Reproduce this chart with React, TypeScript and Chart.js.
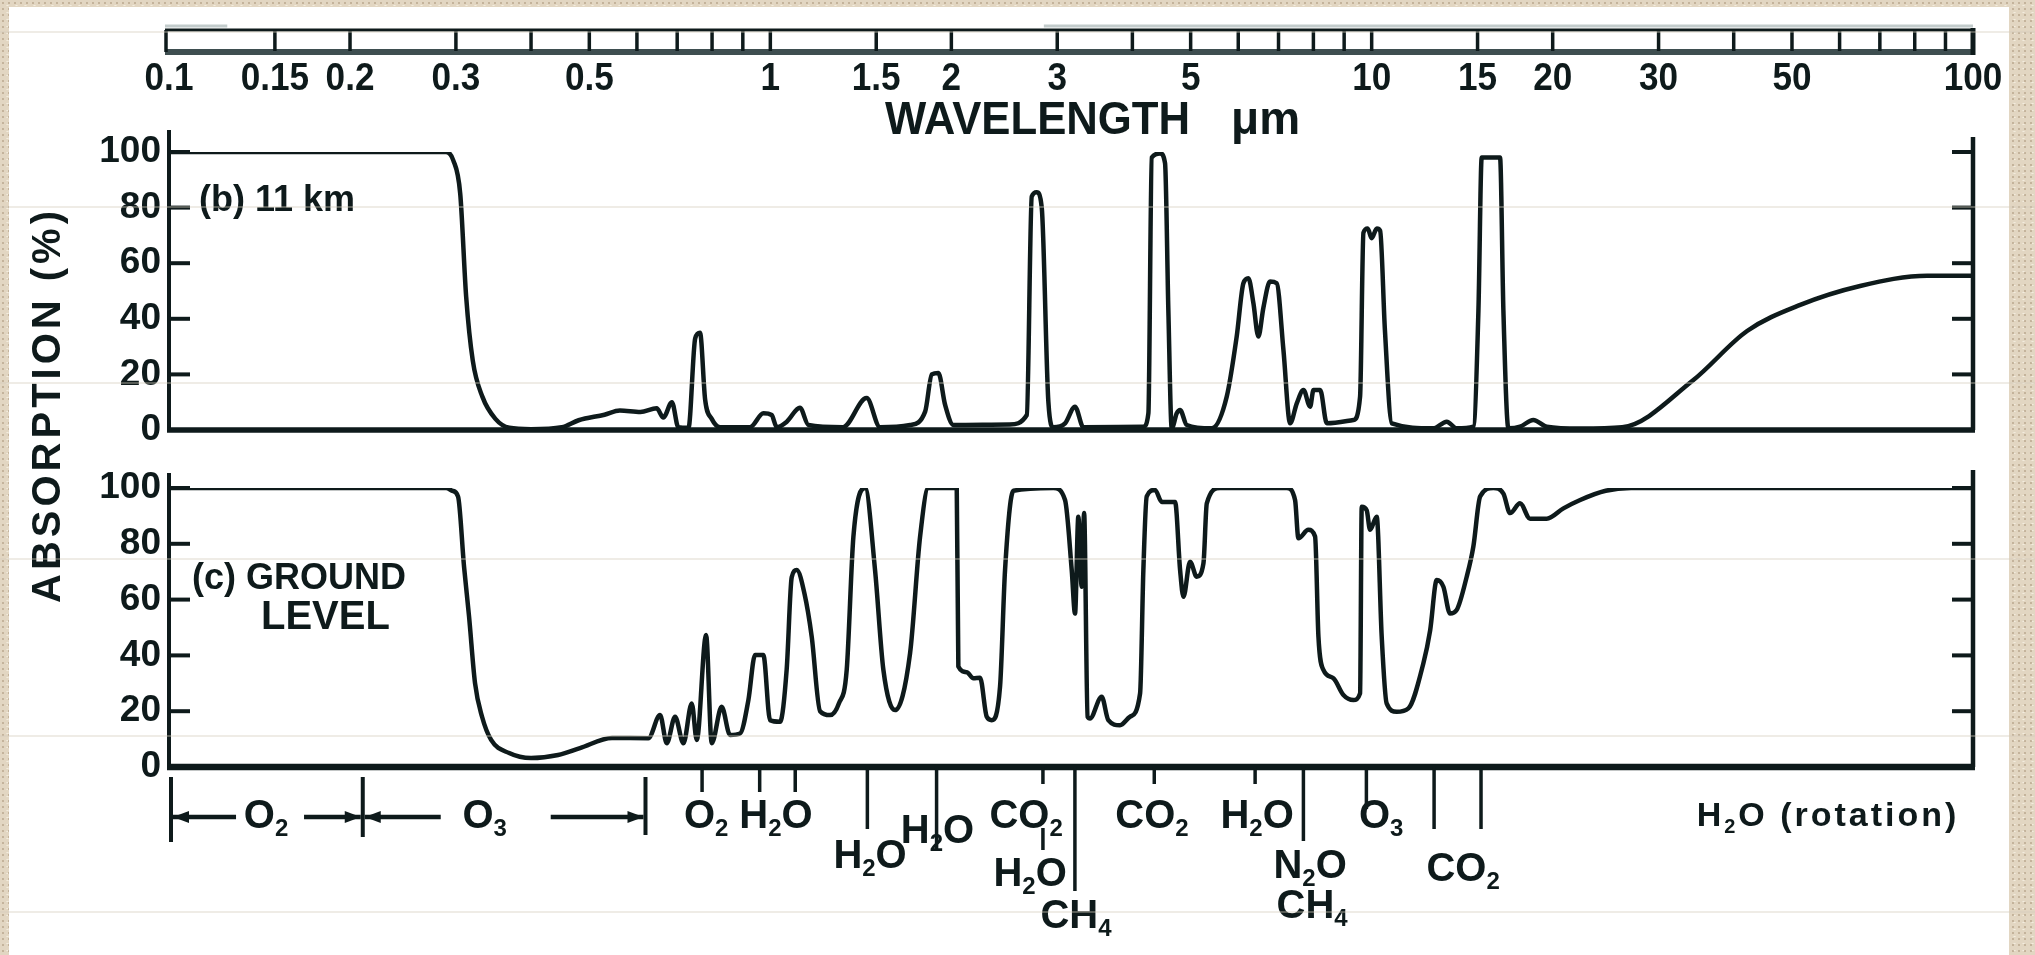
import React, { useEffect, useRef } from 'react';
import { Chart, registerables } from 'chart.js';

Chart.register(...registerables);

const FONT = "'Liberation Sans', Arial, Helvetica, sans-serif";
const INK = '#0e1a1b';
const PAGE_W = 2035;
const PAGE_H = 955;
const PLOT_LEFT = 169;
const PLOT_RIGHT = 1973;
const B_TOP = 152;
const B_BOTTOM = 430;
const C_TOP = 488;
const C_BOTTOM = 767;
const YAXIS_W = 120;

// ---- (b) 11 km: wavelength (µm) and absorption (%) ----
const wl11 = [0.1, 0.2, 0.289, 0.297, 0.305, 0.312, 0.32, 0.332, 0.349, 0.368, 0.4, 0.45, 0.48, 0.53, 0.562, 0.608, 0.647, 0.664, 0.686, 0.703, 0.731, 0.75, 0.764, 0.779, 0.799, 0.825, 0.925, 0.974, 1.005, 1.025, 1.065, 1.12, 1.157, 1.32, 1.446, 1.522, 1.708, 1.809, 1.856, 1.903, 1.953, 2.016, 2.5, 2.67, 2.721, 2.773, 2.827, 2.9, 2.956, 3.091, 3.211, 3.316, 4.172, 4.253, 4.308, 4.447, 4.533, 4.591, 4.651, 4.741, 4.802, 4.926, 5.42, 5.741, 5.964, 6.119, 6.237, 6.358, 6.48, 6.606, 6.776, 6.952, 7.133, 7.318, 7.507, 7.702, 7.901, 8.003, 8.21, 8.423, 9.326, 9.566, 9.69, 9.85, 10.0, 10.2, 10.33, 10.52, 10.8, 12.66, 13.33, 13.85, 14.76, 15.05, 15.24, 16.35, 16.56, 16.88, 17.65, 18.57, 19.55, 22.22, 26.1, 34.2, 42.1, 51.6, 64.9, 83.9, 100];
const abs11 = [100, 100, 100, 97, 85, 48, 25, 12, 4, 0.8, 0.3, 1, 3.5, 5.5, 7, 6.5, 7.8, 4.5, 10, 1, 0.8, 33, 35, 11, 4, 1, 1, 6, 5.4, 1, 3, 8, 1.8, 1, 11.5, 1, 1.8, 6.6, 20, 20.5, 9, 1.8, 2, 5.4, 84, 85.5, 80, 10, 1, 2.4, 8.4, 1, 1.2, 6, 98, 99.5, 96, 43, 0.6, 6, 7.2, 1.8, 0.6, 12, 33.6, 52.8, 54.6, 45.6, 33.6, 44, 53.4, 52.8, 28.8, 2.4, 9.6, 14.4, 8.4, 14.4, 14.4, 2.4, 3.6, 12, 71, 72.5, 69, 72.5, 71.7, 36, 2.4, 0.6, 3, 0.6, 1.2, 43, 98, 98, 43, 0.6, 1.2, 3.6, 1.2, 0.5, 1, 17.8, 35.6, 45, 51.8, 55.5, 55.5];

// ---- (c) ground level ----
const wlGround = [0.1, 0.289, 0.296, 0.3025, 0.3095, 0.3155, 0.3228, 0.3316, 0.3433, 0.3678, 0.4, 0.4436, 0.4825, 0.5454, 0.6267, 0.6556, 0.6726, 0.6944, 0.7169, 0.7401, 0.7545, 0.7819, 0.799, 0.83, 0.857, 0.8906, 0.9194, 0.9431, 0.9736, 0.9988, 1.0378, 1.0646, 1.0853, 1.1063, 1.14, 1.1717, 1.2098, 1.2567, 1.3, 1.3397, 1.3744, 1.4373, 1.4932, 1.5417, 1.6121, 1.7076, 1.7742, 1.8316, 2.0417, 2.0544, 2.1212, 2.176, 2.2324, 2.2902, 2.3345, 2.4099, 2.4565, 2.5363, 2.956, 3.091, 3.171, 3.2114, 3.2525, 3.2946, 3.325, 3.37, 3.401, 3.556, 3.648, 3.815, 3.964, 4.12, 4.172, 4.226, 4.363, 4.477, 4.711, 4.802, 4.864, 4.989, 5.118, 5.251, 5.319, 5.597, 7.224, 7.458, 7.553, 7.848, 8.052, 8.156, 8.313, 8.637, 8.975, 9.326, 9.566, 9.627, 9.813, 9.938, 10.195, 10.392, 10.59, 11.01, 11.51, 12.19, 12.51, 12.83, 13.16, 13.5, 13.85, 14.39, 14.76, 15.15, 15.94, 16.56, 16.99, 17.65, 18.34, 19.55, 20.84, 22.22, 24.5, 27, 100];
const absGround = [100, 100, 99, 96.9, 71.8, 53.9, 30, 18, 9.7, 5, 3.2, 4.3, 6.8, 10.4, 10.3, 18.6, 8.5, 18, 8.5, 22.8, 9.7, 47.3, 8.5, 21.6, 11.5, 12, 24, 40.1, 40.1, 16.8, 16.2, 35, 68, 70.6, 62, 46.7, 20, 18.6, 22.8, 34.8, 82.5, 100, 70.6, 34.8, 20.4, 40.8, 82.5, 100, 100, 36, 34, 31.8, 32, 18, 16.8, 28.8, 70.6, 99, 100, 95.7, 70.6, 55, 89.7, 64.6, 91, 18, 17.4, 25.2, 16.8, 15, 18, 26.4, 70.6, 97, 99.3, 95, 95, 70.6, 61, 73.6, 68.2, 73, 94.5, 100, 100, 95.7, 82, 85, 82.6, 46.7, 34.8, 31.8, 25.8, 24, 26.4, 93.3, 92, 85, 89.7, 46.7, 22.8, 19.8, 21, 37.2, 49, 67, 64.6, 55, 56.3, 68.2, 79, 97, 100, 98, 91, 94.5, 89, 89, 92.7, 95.7, 99, 100, 100];

// ---- top wavelength axis ----
const topTickValues = [0.15, 0.2, 0.3, 0.4, 0.5, 0.6, 0.7, 0.8, 0.9, 1, 1.5, 2, 3, 4, 5, 6, 7, 8, 9, 10, 15, 20, 30, 40, 50, 60, 70, 80, 90];
const topTickLabels = ['0.1', '0.15', '0.2', '0.3', '0.5', '1', '1.5', '2', '3', '5', '10', '15', '20', '30', '50', '100'];
const yTickValues = [20, 40, 60, 80, 100];

// ---- absorber annotations below the ground-level panel ----
const bandEdges = [0.1, 0.21, 0.62];
const bandLabels = ['O2', 'O3'];
const bandLabelAt = [0.145, 0.335];

const markerWl = [0.77, 0.96, 1.1, 1.45, 1.89, 2.84, 2.84, 3.21, 4.35, 6.4, 7.7, 9.8, 12.7, 15.2];
const markerFrom = [0, 0, 0, 0, 0, 0, 61, 0, 0, 0, 0, 0, 0, 0];
const markerTo = [25, 25, 25, 62, 84, 17, 83, 124, 17, 17, 74, 42, 62, 62];

const chemLabels = ['O2', 'H2O', 'H2O', 'H2O', 'CO2', 'H2O', 'CH4', 'CO2', 'H2O', 'N2O', 'CH4', 'O3', 'CO2', 'H2O (rotation)'];
const chemWl = [0.782, 1.022, 1.465, 1.897, 2.663, 2.704, 3.223, 4.313, 6.448, 7.901, 7.962, 10.37, 14.19, 57.4];
const chemRow = [817, 817, 857, 832, 817, 875, 917, 817, 817, 867, 907, 817, 870, 817];

const scanLines = [32, 207, 383, 559, 736, 912];

type Ctx = CanvasRenderingContext2D;

function seg(ctx: Ctx, x1: number, y1: number, x2: number, y2: number) {
  ctx.beginPath();
  ctx.moveTo(x1, y1);
  ctx.lineTo(x2, y2);
  ctx.stroke();
}

function text(ctx: Ctx, s: string, x: number, y: number, size: number, align: CanvasTextAlign = 'left', sx = 1, spacing = 0, weight = 'bold') {
  ctx.save();
  ctx.font = `${weight} ${size}px ${FONT}`;
  ctx.textAlign = align;
  ctx.textBaseline = 'middle';
  ctx.fillStyle = INK;
  (ctx as any).letterSpacing = `${spacing}px`;
  ctx.translate(x, y);
  ctx.scale(sx, 1);
  ctx.fillText(s, 0, 0);
  ctx.restore();
}

function formula(ctx: Ctx, s: string, x: number, y: number, size: number, align: 'center' | 'left' = 'center', spacing = 0) {
  const parts: { t: string; sub: boolean }[] = [];
  for (const ch of s) {
    const sub = /[0-9]/.test(ch);
    const last = parts[parts.length - 1];
    if (last && last.sub === sub) last.t += ch;
    else parts.push({ t: ch, sub });
  }
  const big = `bold ${size}px ${FONT}`;
  const small = `bold ${Math.round(size * 0.6)}px ${FONT}`;
  ctx.save();
  (ctx as any).letterSpacing = `${spacing}px`;
  ctx.textBaseline = 'middle';
  ctx.textAlign = 'left';
  ctx.fillStyle = INK;
  const widths = parts.map(p => {
    ctx.font = p.sub ? small : big;
    return ctx.measureText(p.t).width;
  });
  const total = widths.reduce((a, b) => a + b, 0);
  let cx = align === 'center' ? x - total / 2 : x;
  parts.forEach((p, i) => {
    ctx.font = p.sub ? small : big;
    ctx.fillText(p.t, cx, p.sub ? y + size * 0.3 : y);
    cx += widths[i];
  });
  ctx.restore();
}

function drawFrame(chart: any, extLeft: number, extRight: number, bottomWidth: number) {
  const ctx: Ctx = chart.ctx;
  const { left, right, top, bottom } = chart.chartArea;
  const ys = chart.scales.y;
  ctx.save();
  ctx.strokeStyle = INK;
  ctx.lineCap = 'butt';
  ctx.lineWidth = 4;
  seg(ctx, left, top - extLeft, left, bottom);
  ctx.lineWidth = 4.5;
  seg(ctx, right, top - extRight, right, bottom);
  ctx.lineWidth = bottomWidth;
  seg(ctx, left - 2, bottom, right + 2, bottom);
  ctx.lineWidth = 4;
  yTickValues.forEach(v => {
    const y = ys.getPixelForValue(v);
    seg(ctx, left, y, left + 21, y);
    seg(ctx, right - 21, y, right, y);
  });
  ctx.restore();
}

const plugin11 = {
  id: 'frame11',
  afterDraw(chart: any) {
    const ctx: Ctx = chart.ctx;
    const xs = chart.scales.x;
    drawFrame(chart, 22, 15, 5.5);

    // top wavelength bar
    const x0 = xs.getPixelForValue(0.1);
    const x1 = xs.getPixelForValue(100);
    ctx.save();
    ctx.strokeStyle = '#c2cbcb';
    ctx.lineWidth = 3;
    seg(ctx, x0 - 4, 26, xs.getPixelForValue(0.125), 26);
    seg(ctx, xs.getPixelForValue(2.85), 26, x1, 26);
    ctx.strokeStyle = INK;
    ctx.lineWidth = 3;
    seg(ctx, x0 - 4, 30, x1 + 2, 30);
    ctx.strokeStyle = '#3e4e50';
    ctx.lineWidth = 6;
    seg(ctx, x0 - 4, 52, x1 + 2, 52);
    ctx.strokeStyle = INK;
    ctx.lineWidth = 3.5;
    seg(ctx, x0 - 3, 30, x0 - 3, 52);
    ctx.lineWidth = 5;
    seg(ctx, x1, 28, x1, 55);
    ctx.lineWidth = 3.5;
    topTickValues.forEach(v => {
      const x = xs.getPixelForValue(v);
      seg(ctx, x, 30, x, 51);
    });
    ctx.restore();
    topTickLabels.forEach(l => {
      text(ctx, l, xs.getPixelForValue(parseFloat(l)), 79, 39, 'center', 0.9);
    });
    text(ctx, 'WAVELENGTH', 885, 121, 46, 'left', 0.95);
    text(ctx, 'μm', 1231, 121, 46, 'left', 1);

    // panel label
    text(ctx, '(b) 11 km', 199, 201, 36, 'left', 1);

    // y-axis title
    ctx.save();
    ctx.translate(49, 405);
    ctx.rotate(-Math.PI / 2);
    text(ctx, 'ABSORPTION (%)', 0, 0, 40, 'center', 1, 4);
    ctx.restore();
  },
};

const pluginGround = {
  id: 'frameGround',
  afterDraw(chart: any) {
    const ctx: Ctx = chart.ctx;
    const xs = chart.scales.x;
    const { bottom } = chart.chartArea;
    drawFrame(chart, 15, 18, 6.5);

    text(ctx, '(c) GROUND', 192, 579, 36, 'left', 1);
    text(ctx, 'LEVEL', 261, 618, 40, 'left', 1);

    ctx.save();
    ctx.strokeStyle = INK;
    ctx.fillStyle = INK;
    // band brackets (O2, O3)
    const yArrow = 817;
    ctx.lineWidth = 4;
    const edgeLen = [75, 70, 68];
    bandEdges.forEach((w, i) => {
      const x = xs.getPixelForValue(w) + (i === 0 ? 2 : 0);
      seg(ctx, x, bottom + 10, x, bottom + edgeLen[i]);
    });
    const arrow = (xTip: number, dir: number) => {
      ctx.beginPath();
      ctx.moveTo(xTip, yArrow);
      ctx.lineTo(xTip - dir * 16, yArrow - 6);
      ctx.lineTo(xTip - dir * 16, yArrow + 6);
      ctx.closePath();
      ctx.fill();
    };
    ctx.lineWidth = 4.5;
    bandLabels.forEach((lab, i) => {
      const xa = xs.getPixelForValue(bandEdges[i]) + (i === 0 ? 4 : 2);
      const xb = xs.getPixelForValue(bandEdges[i + 1]) - 2;
      const xc = xs.getPixelForValue(bandLabelAt[i]);
      const gapL = i === 0 ? 30 : 44;
      const gapR = i === 0 ? 38 : 66;
      seg(ctx, xa, yArrow, xc - gapL, yArrow);
      seg(ctx, xc + gapR, yArrow, xb, yArrow);
      arrow(xa, -1);
      arrow(xb, 1);
      formula(ctx, lab, xc, yArrow, 40);
    });
    // marker lines
    ctx.lineWidth = 3.5;
    markerWl.forEach((w, i) => {
      const x = xs.getPixelForValue(w);
      seg(ctx, x, bottom + markerFrom[i], x, bottom + markerTo[i]);
    });
    ctx.restore();
    // absorber labels
    chemLabels.forEach((lab, i) => {
      const x = xs.getPixelForValue(chemWl[i]);
      if (lab.indexOf('rotation') >= 0) formula(ctx, lab, x, chemRow[i], 34, 'center', 3);
      else formula(ctx, lab, x, chemRow[i], 40);
    });

    // faint scan lines over the whole sheet
    ctx.save();
    ctx.strokeStyle = 'rgba(214,206,190,0.75)';
    ctx.lineWidth = 1.2;
    scanLines.forEach(y => seg(ctx, 0, y, PAGE_W, y));
    ctx.restore();
  },
};

function makeConfig(wl: number[], ab: number[], top: number, bottom: number, plugin: any): any {
  return {
    type: 'line',
    data: {
      datasets: [
        {
          data: wl.map((x, i) => ({ x, y: ab[i] })),
          borderColor: INK,
          borderWidth: 4.5,
          pointRadius: 0,
          fill: false,
          cubicInterpolationMode: 'monotone',
          borderJoinStyle: 'round',
          borderCapStyle: 'round',
        },
      ],
    },
    options: {
      responsive: false,
      animation: false,
      devicePixelRatio: 1,
      events: [],
      layout: {
        padding: { left: PLOT_LEFT - YAXIS_W, right: PAGE_W - PLOT_RIGHT, top, bottom: PAGE_H - bottom },
      },
      plugins: { legend: { display: false }, tooltip: { enabled: false }, title: { display: false } },
      scales: {
        x: { type: 'logarithmic', min: 0.1, max: 100, display: false },
        y: {
          type: 'linear',
          min: 0,
          max: 100,
          position: 'left',
          afterFit: (s: any) => {
            s.width = YAXIS_W;
          },
          grid: { display: false, drawTicks: false },
          border: { display: false },
          ticks: { stepSize: 20, color: INK, padding: 8, font: { family: FONT, size: 37, weight: 'bold' } },
        },
      },
    },
    plugins: [plugin],
  };
}

export default function App() {
  const refA = useRef<HTMLCanvasElement>(null);
  const refB = useRef<HTMLCanvasElement>(null);

  useEffect(() => {
    const a = new Chart(refA.current as HTMLCanvasElement, makeConfig(wl11, abs11, B_TOP, B_BOTTOM, plugin11));
    const b = new Chart(refB.current as HTMLCanvasElement, makeConfig(wlGround, absGround, C_TOP, C_BOTTOM, pluginGround));
    return () => {
      a.destroy();
      b.destroy();
    };
  }, []);

  const canvasStyle: React.CSSProperties = { position: 'absolute', left: 0, top: 0, width: PAGE_W, height: PAGE_H };

  return (
    <div
      style={{
        position: 'absolute',
        left: 0,
        top: 0,
        width: PAGE_W,
        height: PAGE_H,
        overflow: 'hidden',
        backgroundColor: '#e2d6c2',
        backgroundImage:
          'radial-gradient(rgba(150,128,98,0.4) 0.9px, transparent 1.4px), radial-gradient(rgba(255,250,240,0.6) 0.8px, transparent 1.3px)',
        backgroundSize: '6px 6px, 9px 7px',
        backgroundPosition: '0 0, 3px 2px',
      }}
    >
      <div style={{ position: 'absolute', left: 9, top: 7, width: 2000, height: PAGE_H - 7, background: '#ffffff' }} />
      <canvas ref={refA} width={PAGE_W} height={PAGE_H} style={canvasStyle} />
      <canvas ref={refB} width={PAGE_W} height={PAGE_H} style={canvasStyle} />
    </div>
  );
}
